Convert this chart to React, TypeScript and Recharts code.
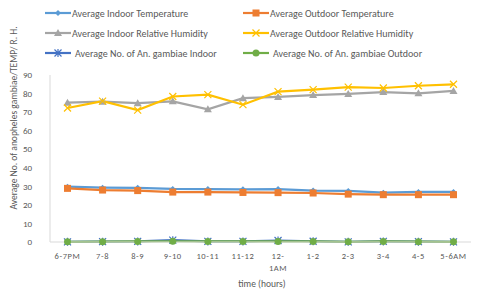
import React from 'react';
import { LineChart, Line, XAxis, YAxis } from 'recharts';

const hours = ['6-7PM', '7-8', '8-9', '9-10', '10-11', '11-12', '12-\n1AM', '1-2', '2-3', '3-4', '4-5', '5-6AM'];
const indoorTemp = [29.8, 29.3, 29.2, 28.6, 28.5, 28.4, 28.5, 27.7, 27.5, 26.6, 27.0, 27.0];
const outdoorTemp = [28.9, 28.0, 27.7, 26.9, 26.9, 26.7, 26.6, 26.4, 25.8, 25.5, 25.5, 25.5];
const indoorRH = [75.1, 75.6, 74.8, 75.8, 71.5, 77.5, 78.2, 79.2, 79.8, 80.8, 80.1, 81.4];
const outdoorRH = [72.2, 75.9, 71.1, 78.4, 79.4, 74.0, 81.0, 82.1, 83.5, 83.0, 84.2, 85.0];
const gambiaeIndoor = [0.1, 0.2, 0.3, 1.0, 0.3, 0.3, 0.8, 0.4, 0.1, 0.3, 0.2, 0.1];
const gambiaeOutdoor = [0.1, 0.2, 0.3, 0.4, 0.3, 0.3, 0.3, 0.3, 0.1, 0.3, 0.2, 0.1];

const data = hours.map((h, i) => ({
 hour: h,
 indoorTemp: indoorTemp[i],
 outdoorTemp: outdoorTemp[i],
 indoorRH: indoorRH[i],
 outdoorRH: outdoorRH[i],
 gambiaeIndoor: gambiaeIndoor[i],
 gambiaeOutdoor: gambiaeOutdoor[i],
}));

const FONT = 'Carlito, "Liberation Sans", Arial, sans-serif';
const TEXT = '#595959';

type Marker = 'diamond' | 'square' | 'triangle' | 'x' | 'star' | 'circle';

const drawMarker = (kind: Marker, cx: number, cy: number, color: string, key?: string) => {
 switch (kind) {
 case 'diamond':
 return <path key={key} d={`M${cx},${cy - 3}L${cx + 3},${cy}L${cx},${cy + 3}L${cx - 3},${cy}Z`} fill={color} />;
 case 'square':
 return <rect key={key} x={cx - 3.5} y={cy - 3.5} width={7} height={7} fill={color} />;
 case 'triangle':
 return <path key={key} d={`M${cx},${cy - 4}L${cx + 4},${cy + 3}L${cx - 4},${cy + 3}Z`} fill={color} />;
 case 'x':
 return (
 <path key={key} d={`M${cx - 3.5},${cy - 3.5}L${cx + 3.5},${cy + 3.5}M${cx + 3.5},${cy - 3.5}L${cx - 3.5},${cy + 3.5}`} stroke={color} strokeWidth={1.2} />
 );
 case 'star':
 return (
 <path key={key} d={`M${cx - 3.5},${cy - 3.5}L${cx + 3.5},${cy + 3.5}M${cx + 3.5},${cy - 3.5}L${cx - 3.5},${cy + 3.5}M${cx},${cy - 4}L${cx},${cy + 4}`} stroke={color} strokeWidth={1.2} />
 );
 default:
 return <circle key={key} cx={cx} cy={cy} r={3.5} fill={color} />;
 }
};

const series: { key: string; name: string; color: string; marker: Marker }[] = [
 { key: 'indoorTemp', name: 'Average Indoor Temperature', color: '#5B9BD5', marker: 'diamond' },
 { key: 'outdoorTemp', name: 'Average Outdoor Temperature', color: '#ED7D31', marker: 'square' },
 { key: 'indoorRH', name: 'Average Indoor Relative Humidity', color: '#A5A5A5', marker: 'triangle' },
 { key: 'outdoorRH', name: 'Average Outdoor Relative Humidity', color: '#FFC000', marker: 'x' },
 { key: 'gambiaeIndoor', name: 'Average No. of An. gambiae Indoor', color: '#4472C4', marker: 'star' },
 { key: 'gambiaeOutdoor', name: 'Average No. of An. gambiae Outdoor', color: '#70AD47', marker: 'circle' },
];

const HourTick = (props: any) => {
 const { x, y, payload } = props;
 const lines = String(payload.value).split('\n');
 return (
 <text x={x} y={y + 9} textAnchor="middle" fontSize={8.5} fill={TEXT} fontFamily={FONT} letterSpacing={0.6}>
 {lines.map((l, i) => (
 <tspan key={i} x={x} dy={i === 0 ? 0 : 12}>{l}</tspan>
 ))}
 </text>
 );
};

const LegendBlock = () => (
 <div style={{ position: 'absolute', left: 0, top: 0, width: 479, height: 70, pointerEvents: 'none' }}>
 {series.map((s, i) => {
 const col = i % 2;
 const row = Math.floor(i / 2);
 const left = col === 0 ? 45 : 243;
 const top = 6 + row * 20;
 return (
 <div key={s.key} style={{ position: 'absolute', left, top, display: 'flex', alignItems: 'center', height: 14 }}>
 <svg width={26} height={10} style={{ display: 'block' }}>
 <line x1={0} y1={5} x2={26} y2={5} stroke={s.color} strokeWidth={2.2} />
 {drawMarker(s.marker, 13, 5, s.color)}
 </svg>
 <span style={{ fontFamily: FONT, fontSize: 10, color: TEXT, marginLeft: i >= 4 ? 4 : 1, whiteSpace: 'nowrap' }}>
 {s.name}
 </span>
 </div>
 );
 })}
 </div>
);

export default function App() {
 return (
 <div style={{ position: 'absolute', left: 0, top: 0, width: 479, height: 294, background: '#fff' }}>
 <LineChart width={479} height={294} data={data} margin={{ top: 75, right: 8, bottom: 22, left: 0 }}>
 <XAxis
 dataKey="hour"
 interval={0}
 tick={<HourTick />}
 tickLine={false}
 axisLine={{ stroke: '#D9D9D9' }}
 padding={{ left: 17.5, right: 17.5 }}
 height={30}
 />
 <YAxis
 domain={[0, 90]}
 ticks={[0, 10, 20, 30, 40, 50, 60, 70, 80, 90]}
 width={50}
 tickLine={false}
 axisLine={{ stroke: '#D9D9D9' }}
 tick={{ fontSize: 9, fill: TEXT, fontFamily: FONT }}
 tickMargin={12}
 />
 {series.map((s) => (
 <Line
 key={s.key}
 dataKey={s.key}
 name={s.name}
 stroke={s.color}
 strokeWidth={2.2}
 isAnimationActive={false}
 dot={(p: any) => drawMarker(s.marker, p.cx, p.cy, s.color, `${s.key}-${p.index}`)}
 activeDot={false}
 />
 ))}
 <text x={14} y={118} transform="rotate(-90 14 118)" textAnchor="middle" dominantBaseline="central" fontSize={9.5} fill={TEXT} fontFamily={FONT}>
 Average No. of anopheles gambiae/TEMP/ R. H.
 </text>
 <text x={262} y={284} textAnchor="middle" dominantBaseline="central" fontSize={9.5} fill={TEXT} fontFamily={FONT}>
 time (hours)
 </text>
 </LineChart>
 <LegendBlock />
 </div>
 );
}
